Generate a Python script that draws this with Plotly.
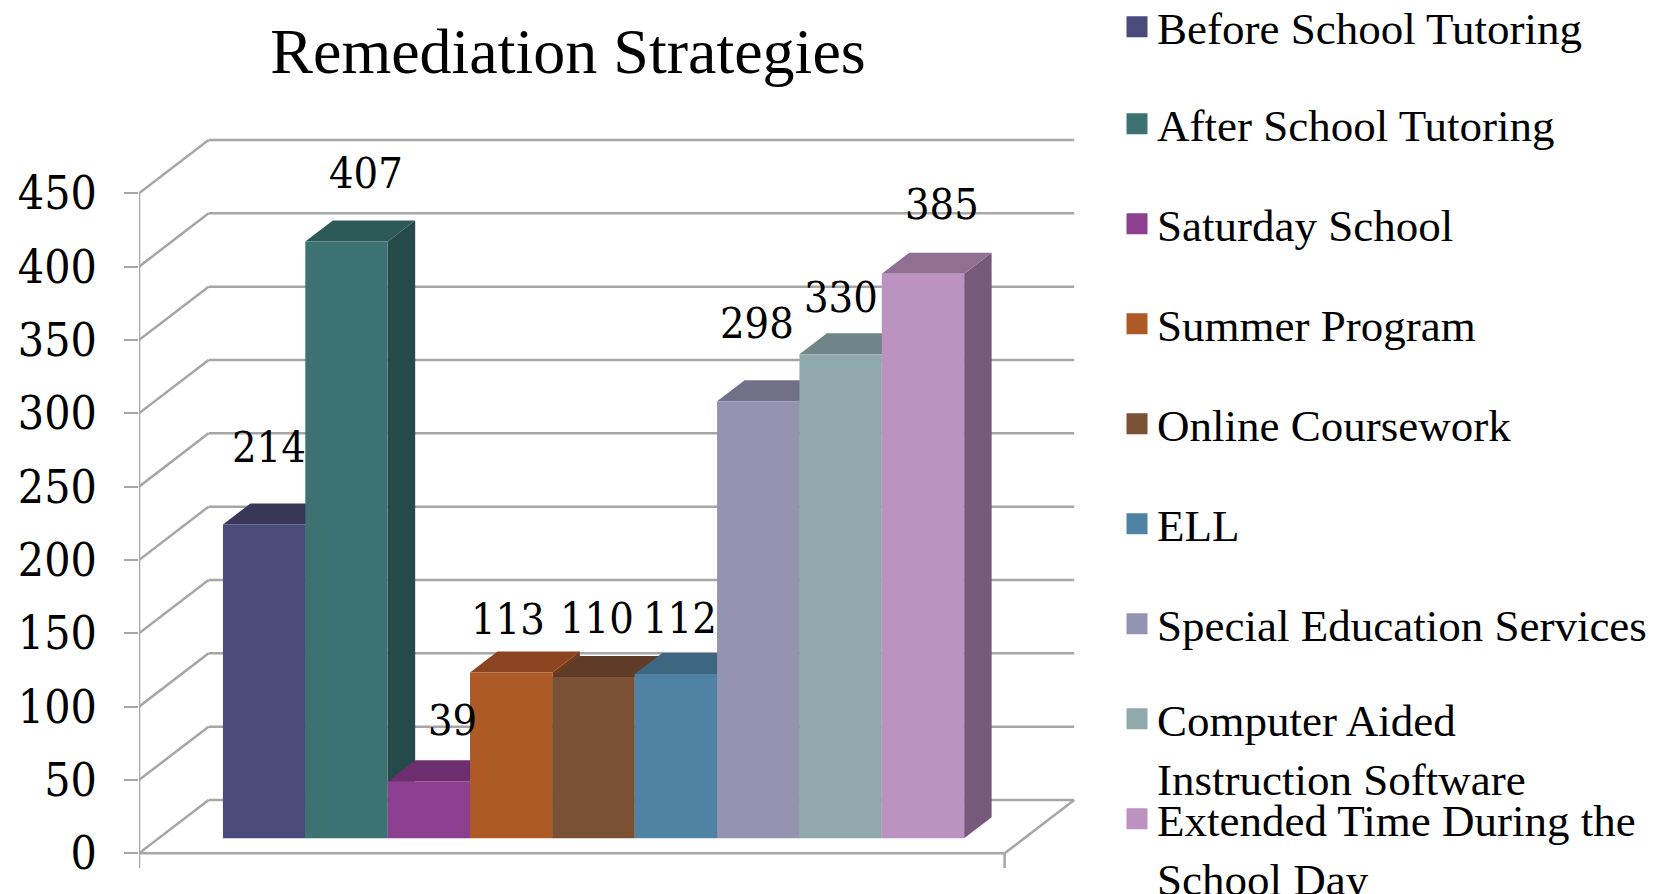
import plotly.graph_objects as go

# ---------------- data ----------------
categories = [
    "Before School Tutoring",
    "After School Tutoring",
    "Saturday School",
    "Summer Program",
    "Online Coursework",
    "ELL",
    "Special Education Services",
    "Computer Aided<br>Instruction Software",
    "Extended Time During the<br>School Day",
]
values = [214, 407, 39, 113, 110, 112, 298, 330, 385]
tick_values = [0, 50, 100, 150, 200, 250, 300, 350, 400, 450]
chart_title = "Remediation Strategies"

# ---------------- style ----------------
front_colors = ["#4a4a7b", "#3c7272", "#8b3f8e", "#ae5a26", "#7a5134",
                "#4f82a3", "#9493b0", "#90a9ab", "#bc93c0"]
top_colors = ["#393658", "#2d5959", "#6c2e6e", "#8a4420", "#5e3c27",
              "#3d6680", "#717088", "#6f8587", "#916f95"]
side_colors = ["#2f2e4e", "#264a4a", "#5a285c", "#733a1b", "#4e3221",
               "#34566c", "#5f5e73", "#5d7072", "#775a7b"]
# data-label nudges in pixels (dx, dy; negative dy = up) relative to bar top centre
label_shift = [(5, -77), (20, -68), (24, -61), (-3, -54), (3, -59),
               (4, -56), (-1, -78), (0, -57), (19, -70)]
# legend first-line centre positions (px from top of page)
legend_centers = [30, 127, 227, 327, 427, 527, 627, 722, 822]

GRID = "#a6a6a6"
NUM_FONT = "DejaVu Serif Condensed, DejaVu Serif"
TEXT_FONT = "Liberation Serif"

PAGE_W, PAGE_H = 1673, 894
OFF = 8                     # default body margin of the html page
W, H = PAGE_W - OFF, PAGE_H - OFF

# pseudo-3D geometry (x in bar-width units, y in value units)
X0 = -1.282          # front left corner (value axis)
XR = 9.229           # front right floor corner
DX, DY = 0.845, 36.36   # full depth of floor / walls
BX, BY = 0.2375, 10.22  # offset of bar front plane
DDX, DDY = 0.334, 14.32 # bar depth
XMAX = 10.12
YMIN, YMAX = -10, 500
PX_PER_X = 82.33
PX_PER_Y = 1.4667

shapes = []


def line(x0, y0, x1, y1):
    shapes.append(dict(type="line", xref="x", yref="y", x0=x0, y0=y0, x1=x1, y1=y1,
                       line=dict(color=GRID, width=2.5), layer="below"))


def poly(pts, color):
    path = "M" + " L".join(f"{px},{py}" for px, py in pts) + " Z"
    shapes.append(dict(type="path", xref="x", yref="y", path=path, fillcolor=color,
                       line=dict(width=0), layer="below"))


# walls / gridlines
for v in tick_values:
    line(X0, v, X0 + DX, v + DY)
    line(X0 + DX, v + DY, XR + DX, v + DY)
# floor front edge and right edge
line(X0, 0, XR, 0)
line(XR, 0, XR + DX, DY)
line(XR, 0, XR, YMIN)
# value axis line
line(X0, YMIN, X0, tick_values[-1])

# side and top faces (painter's order, left to right)
for i, v in enumerate(values):
    xl = i + BX - 0.5
    xr = i + BX + 0.5
    top = v + BY
    poly([(xr, BY), (xr, top), (xr + DDX, top + DDY), (xr + DDX, BY + DDY)], side_colors[i])
    poly([(xl, top), (xr, top), (xr + DDX, top + DDY), (xl + DDX, top + DDY)], top_colors[i])

fig = go.Figure()

# front faces
fig.add_trace(go.Bar(
    x=[i + BX for i in range(len(values))],
    y=values,
    base=BY,
    width=1.0,
    marker=dict(color=front_colors, line=dict(width=0)),
    showlegend=False,
    hovertext=categories,
))

left = 139 - OFF
top_m = 120 - OFF
plot_h = (YMAX - YMIN) * PX_PER_Y
plot_w = (XMAX - X0) * PX_PER_X

# legend entries (one legend per entry so each can be placed like the original)
legend_layouts = {}
for i, name in enumerate(categories):
    lname = "legend" if i == 0 else f"legend{i + 1}"
    fig.add_trace(go.Scatter(
        x=[None], y=[None], mode="markers", name=name, legend=lname,
        marker=dict(symbol="square", size=16, color=front_colors[i],
                    line=dict(color=front_colors[i], width=5)),
        showlegend=True,
    ))
    top_px = legend_centers[i] - OFF - 39
    legend_layouts[lname] = dict(
        xref="container", yref="paper",
        x=1109 / W, y=1 + (top_m - top_px) / plot_h,
        xanchor="left", yanchor="top", valign="top",
        bgcolor="rgba(0,0,0,0)", borderwidth=0,
        font=dict(family=TEXT_FONT, size=45, color="black"),
        itemsizing="trace",
    )

annotations = []
for i, v in enumerate(values):
    dx, dy = label_shift[i]
    annotations.append(dict(
        x=i + BX, y=v + BY, xref="x", yref="y", text=str(v), showarrow=False,
        xshift=dx, yshift=-dy, yanchor="middle", xanchor="center",
        font=dict(family=NUM_FONT, size=43, color="black"),
    ))

fig.update_layout(
    width=W, height=H, autosize=False,
    margin=dict(l=left, r=W - left - plot_w, t=top_m, b=H - top_m - plot_h, pad=0,
                autoexpand=False),
    paper_bgcolor="white", plot_bgcolor="white",
    barmode="overlay",
    showlegend=True,
    title=dict(text=chart_title, xref="container", yref="container",
               x=(568 - OFF) / W, y=1 - (51 - OFF) / H, xanchor="center", yanchor="middle",
               font=dict(family=TEXT_FONT, size=64, color="black")),
    xaxis=dict(range=[X0, XMAX], visible=False, fixedrange=True),
    yaxis=dict(range=[YMIN, YMAX], tickvals=tick_values, ticks="outside", ticklen=14,
               tickwidth=2, tickcolor=GRID, showgrid=False, zeroline=False, showline=False,
               ticklabelstandoff=18,
               tickfont=dict(family=NUM_FONT, size=46, color="black")),
    shapes=shapes,
    annotations=annotations,
    **legend_layouts,
)

fig.write_html("out.html")
